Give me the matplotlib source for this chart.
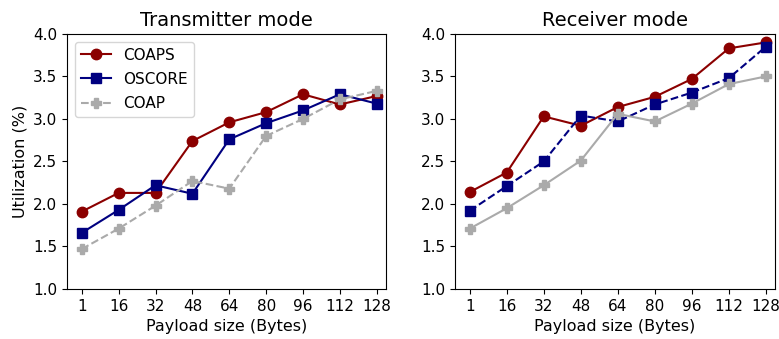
import matplotlib
matplotlib.use("Agg")
import matplotlib.pyplot as plt

payload = ["1", "16", "32", "48", "64", "80", "96", "112", "128"]

tx_coaps = [1.91, 2.13, 2.13, 2.74, 2.96, 3.08, 3.29, 3.17, 3.27]
tx_oscore = [1.66, 1.93, 2.22, 2.12, 2.76, 2.95, 3.10, 3.29, 3.18]
tx_coap = [1.47, 1.71, 1.98, 2.27, 2.18, 2.80, 3.00, 3.23, 3.33]

rx_coaps = [2.14, 2.37, 3.03, 2.92, 3.14, 3.26, 3.47, 3.83, 3.90]
rx_oscore = [1.92, 2.21, 2.50, 3.04, 2.97, 3.17, 3.31, 3.48, 3.85]
rx_coap = [1.71, 1.95, 2.22, 2.51, 3.06, 2.97, 3.18, 3.41, 3.50]

fig = plt.figure(figsize=(7.79, 3.39), dpi=100)
ax1 = fig.add_axes([0.086, 0.1475, 0.4095, 0.7525])
ax2 = fig.add_axes([0.584, 0.1475, 0.411, 0.7525])

x = list(range(len(payload)))

ax1.plot(x, tx_coaps, color="#8b0000", marker="o", markersize=7.5, lw=1.5, label="COAPS")
ax1.plot(x, tx_oscore, color="#000080", marker="s", markersize=7.5, lw=1.5, label="OSCORE")
ax1.plot(x, tx_coap, color="#aaaaaa", marker="P", markersize=7.5, lw=1.5, ls="--", label="COAP")

ax2.plot(x, rx_coaps, color="#8b0000", marker="o", markersize=7.5, lw=1.5, label="COAPS")
ax2.plot(x, rx_oscore, color="#000080", marker="s", markersize=7.5, lw=1.5, ls="--", label="OSCORE")
ax2.plot(x, rx_coap, color="#aaaaaa", marker="P", markersize=7.5, lw=1.5, label="COAP")

for ax, title in ((ax1, "Transmitter mode"), (ax2, "Receiver mode")):
    ax.set_title(title, fontsize=14)
    ax.set_xticks(x)
    ax.set_xticklabels(payload)
    ax.set_ylim(1.0, 4.0)
    ax.set_yticks([1.0, 1.5, 2.0, 2.5, 3.0, 3.5, 4.0])
    ax.tick_params(labelsize=11)
    ax.set_xlim(-0.4, 8.25)
    ax.set_xlabel("Payload size (Bytes)", fontsize=11.5)

ax1.set_ylabel("Utilization (%)", fontsize=11.5)
ax1.legend(loc="upper left", fontsize=11, labelspacing=0.6)

fig.savefig("out.png", dpi=100)
